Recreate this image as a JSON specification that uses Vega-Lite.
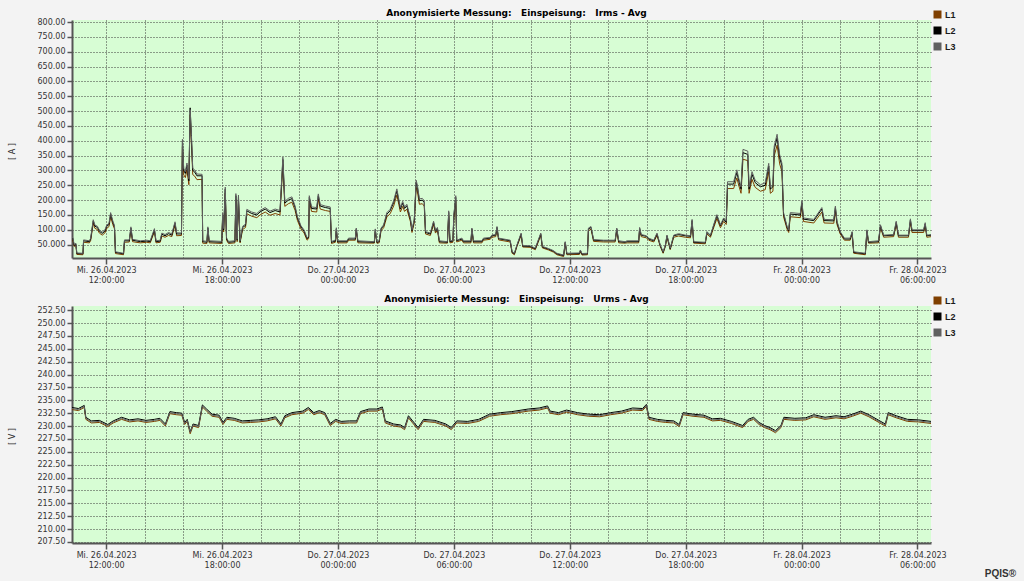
{
  "$schema": "https://vega.github.io/schema/vega-lite/v6.json",
  "background": "#f3f3f3",
  "padding": {"left": 8, "top": 9, "right": 10, "bottom": 4},
  "title": {"text": "PQIS®", "orient": "bottom", "anchor": "end", "font": "Liberation Sans", "fontSize": 10, "fontWeight": "bold", "color": "#333333", "dx": 60, "dy": -1, "offset": 0},
  "bounds": "flush",
  "spacing": 48,
  "datasets": {
    "irms": [
      {"t": "2023-04-26T10:14", "L1": 64, "L2": 69, "L3": 72},
      {"t": "2023-04-26T10:16", "L1": 66, "L2": 72, "L3": 75},
      {"t": "2023-04-26T10:21", "L1": 44, "L2": 47, "L3": 50},
      {"t": "2023-04-26T10:26", "L1": 48, "L2": 52, "L3": 55},
      {"t": "2023-04-26T10:29", "L1": 17, "L2": 20, "L3": 22},
      {"t": "2023-04-26T10:48", "L1": 16, "L2": 19, "L3": 21},
      {"t": "2023-04-26T10:50", "L1": 58, "L2": 63, "L3": 66},
      {"t": "2023-04-26T11:08", "L1": 56, "L2": 60, "L3": 63},
      {"t": "2023-04-26T11:12", "L1": 64, "L2": 69, "L3": 72},
      {"t": "2023-04-26T11:20", "L1": 122, "L2": 130, "L3": 134},
      {"t": "2023-04-26T11:25", "L1": 105, "L2": 112, "L3": 116},
      {"t": "2023-04-26T11:33", "L1": 101, "L2": 108, "L3": 112},
      {"t": "2023-04-26T11:39", "L1": 89, "L2": 95, "L3": 99},
      {"t": "2023-04-26T11:48", "L1": 82, "L2": 88, "L3": 92},
      {"t": "2023-04-26T11:56", "L1": 89, "L2": 95, "L3": 99},
      {"t": "2023-04-26T12:02", "L1": 105, "L2": 112, "L3": 116},
      {"t": "2023-04-26T12:09", "L1": 111, "L2": 118, "L3": 122},
      {"t": "2023-04-26T12:14", "L1": 144, "L2": 153, "L3": 158},
      {"t": "2023-04-26T12:21", "L1": 117, "L2": 125, "L3": 129},
      {"t": "2023-04-26T12:26", "L1": 103, "L2": 110, "L3": 114},
      {"t": "2023-04-26T12:29", "L1": 20, "L2": 24, "L3": 26},
      {"t": "2023-04-26T12:54", "L1": 16, "L2": 19, "L3": 21},
      {"t": "2023-04-26T12:57", "L1": 58, "L2": 63, "L3": 66},
      {"t": "2023-04-26T13:12", "L1": 59, "L2": 63, "L3": 66},
      {"t": "2023-04-26T13:17", "L1": 99, "L2": 106, "L3": 110},
      {"t": "2023-04-26T13:22", "L1": 60, "L2": 65, "L3": 68},
      {"t": "2023-04-26T13:46", "L1": 56, "L2": 60, "L3": 63},
      {"t": "2023-04-26T14:06", "L1": 58, "L2": 62, "L3": 65},
      {"t": "2023-04-26T14:17", "L1": 56, "L2": 60, "L3": 63},
      {"t": "2023-04-26T14:30", "L1": 94, "L2": 100, "L3": 104},
      {"t": "2023-04-26T14:35", "L1": 56, "L2": 60, "L3": 63},
      {"t": "2023-04-26T14:48", "L1": 58, "L2": 62, "L3": 65},
      {"t": "2023-04-26T14:53", "L1": 79, "L2": 85, "L3": 89},
      {"t": "2023-04-26T15:03", "L1": 75, "L2": 80, "L3": 84},
      {"t": "2023-04-26T15:14", "L1": 81, "L2": 87, "L3": 91},
      {"t": "2023-04-26T15:24", "L1": 77, "L2": 82, "L3": 86},
      {"t": "2023-04-26T15:34", "L1": 115, "L2": 123, "L3": 127},
      {"t": "2023-04-26T15:39", "L1": 80, "L2": 86, "L3": 90},
      {"t": "2023-04-26T15:54", "L1": 81, "L2": 86, "L3": 89},
      {"t": "2023-04-26T15:57", "L1": 380, "L2": 399, "L3": 405},
      {"t": "2023-04-26T16:01", "L1": 285, "L2": 300, "L3": 306},
      {"t": "2023-04-26T16:06", "L1": 276, "L2": 290, "L3": 296},
      {"t": "2023-04-26T16:11", "L1": 302, "L2": 318, "L3": 325},
      {"t": "2023-04-26T16:17", "L1": 252, "L2": 265, "L3": 272},
      {"t": "2023-04-26T16:21", "L1": 488, "L2": 511, "L3": 505},
      {"t": "2023-04-26T16:25", "L1": 392, "L2": 410, "L3": 418},
      {"t": "2023-04-26T16:29", "L1": 286, "L2": 300, "L3": 307},
      {"t": "2023-04-26T16:35", "L1": 281, "L2": 295, "L3": 302},
      {"t": "2023-04-26T16:42", "L1": 269, "L2": 282, "L3": 288},
      {"t": "2023-04-26T16:58", "L1": 270, "L2": 282, "L3": 287},
      {"t": "2023-04-26T17:00", "L1": 55, "L2": 60, "L3": 63},
      {"t": "2023-04-26T17:13", "L1": 54, "L2": 58, "L3": 61},
      {"t": "2023-04-26T17:16", "L1": 99, "L2": 106, "L3": 110},
      {"t": "2023-04-26T17:20", "L1": 56, "L2": 60, "L3": 63},
      {"t": "2023-04-26T17:59", "L1": 54, "L2": 58, "L3": 61},
      {"t": "2023-04-26T18:02", "L1": 141, "L2": 150, "L3": 156},
      {"t": "2023-04-26T18:05", "L1": 93, "L2": 100, "L3": 104},
      {"t": "2023-04-26T18:10", "L1": 224, "L2": 237, "L3": 244},
      {"t": "2023-04-26T18:14", "L1": 65, "L2": 70, "L3": 73},
      {"t": "2023-04-26T18:20", "L1": 54, "L2": 58, "L3": 61},
      {"t": "2023-04-26T18:40", "L1": 56, "L2": 60, "L3": 63},
      {"t": "2023-04-26T18:43", "L1": 203, "L2": 215, "L3": 222},
      {"t": "2023-04-26T18:47", "L1": 60, "L2": 65, "L3": 68},
      {"t": "2023-04-26T18:51", "L1": 198, "L2": 210, "L3": 217},
      {"t": "2023-04-26T18:56", "L1": 56, "L2": 60, "L3": 63},
      {"t": "2023-04-26T19:04", "L1": 101, "L2": 108, "L3": 112},
      {"t": "2023-04-26T19:13", "L1": 108, "L2": 115, "L3": 119},
      {"t": "2023-04-26T19:17", "L1": 154, "L2": 164, "L3": 169},
      {"t": "2023-04-26T19:32", "L1": 146, "L2": 155, "L3": 160},
      {"t": "2023-04-26T19:48", "L1": 141, "L2": 150, "L3": 155},
      {"t": "2023-04-26T19:58", "L1": 150, "L2": 160, "L3": 165},
      {"t": "2023-04-26T20:14", "L1": 160, "L2": 170, "L3": 175},
      {"t": "2023-04-26T20:29", "L1": 149, "L2": 158, "L3": 163},
      {"t": "2023-04-26T20:45", "L1": 155, "L2": 165, "L3": 170},
      {"t": "2023-04-26T21:00", "L1": 150, "L2": 160, "L3": 165},
      {"t": "2023-04-26T21:09", "L1": 320, "L2": 337, "L3": 345},
      {"t": "2023-04-26T21:15", "L1": 179, "L2": 190, "L3": 196},
      {"t": "2023-04-26T21:26", "L1": 188, "L2": 200, "L3": 206},
      {"t": "2023-04-26T21:37", "L1": 193, "L2": 205, "L3": 211},
      {"t": "2023-04-26T21:47", "L1": 165, "L2": 175, "L3": 180},
      {"t": "2023-04-26T21:54", "L1": 132, "L2": 140, "L3": 145},
      {"t": "2023-04-26T22:05", "L1": 103, "L2": 110, "L3": 114},
      {"t": "2023-04-26T22:15", "L1": 89, "L2": 95, "L3": 99},
      {"t": "2023-04-26T22:24", "L1": 65, "L2": 70, "L3": 73},
      {"t": "2023-04-26T22:29", "L1": 70, "L2": 75, "L3": 78},
      {"t": "2023-04-26T22:31", "L1": 197, "L2": 209, "L3": 215},
      {"t": "2023-04-26T22:38", "L1": 162, "L2": 172, "L3": 177},
      {"t": "2023-04-26T22:54", "L1": 160, "L2": 170, "L3": 175},
      {"t": "2023-04-26T22:59", "L1": 203, "L2": 215, "L3": 221},
      {"t": "2023-04-26T23:05", "L1": 170, "L2": 180, "L3": 185},
      {"t": "2023-04-26T23:21", "L1": 165, "L2": 175, "L3": 180},
      {"t": "2023-04-26T23:36", "L1": 162, "L2": 172, "L3": 177},
      {"t": "2023-04-26T23:40", "L1": 54, "L2": 58, "L3": 61},
      {"t": "2023-04-26T23:52", "L1": 58, "L2": 62, "L3": 65},
      {"t": "2023-04-26T23:55", "L1": 96, "L2": 103, "L3": 107},
      {"t": "2023-04-26T23:59", "L1": 56, "L2": 60, "L3": 63},
      {"t": "2023-04-27T00:28", "L1": 56, "L2": 60, "L3": 63},
      {"t": "2023-04-27T00:33", "L1": 65, "L2": 69, "L3": 72},
      {"t": "2023-04-27T00:54", "L1": 65, "L2": 69, "L3": 72},
      {"t": "2023-04-27T00:57", "L1": 97, "L2": 103, "L3": 106},
      {"t": "2023-04-27T01:02", "L1": 56, "L2": 60, "L3": 63},
      {"t": "2023-04-27T01:53", "L1": 55, "L2": 58, "L3": 60},
      {"t": "2023-04-27T01:56", "L1": 94, "L2": 100, "L3": 103},
      {"t": "2023-04-27T02:01", "L1": 55, "L2": 58, "L3": 60},
      {"t": "2023-04-27T02:08", "L1": 56, "L2": 60, "L3": 63},
      {"t": "2023-04-27T02:14", "L1": 97, "L2": 103, "L3": 106},
      {"t": "2023-04-27T02:22", "L1": 107, "L2": 114, "L3": 117},
      {"t": "2023-04-27T02:32", "L1": 144, "L2": 153, "L3": 158},
      {"t": "2023-04-27T02:42", "L1": 154, "L2": 164, "L3": 169},
      {"t": "2023-04-27T02:53", "L1": 180, "L2": 192, "L3": 198},
      {"t": "2023-04-27T03:03", "L1": 217, "L2": 231, "L3": 238},
      {"t": "2023-04-27T03:08", "L1": 191, "L2": 203, "L3": 209},
      {"t": "2023-04-27T03:14", "L1": 160, "L2": 170, "L3": 175},
      {"t": "2023-04-27T03:21", "L1": 179, "L2": 190, "L3": 196},
      {"t": "2023-04-27T03:27", "L1": 162, "L2": 172, "L3": 177},
      {"t": "2023-04-27T03:34", "L1": 170, "L2": 181, "L3": 186},
      {"t": "2023-04-27T03:45", "L1": 128, "L2": 136, "L3": 140},
      {"t": "2023-04-27T03:50", "L1": 91, "L2": 97, "L3": 100},
      {"t": "2023-04-27T03:57", "L1": 123, "L2": 131, "L3": 135},
      {"t": "2023-04-27T04:03", "L1": 243, "L2": 259, "L3": 267},
      {"t": "2023-04-27T04:07", "L1": 227, "L2": 242, "L3": 249},
      {"t": "2023-04-27T04:13", "L1": 186, "L2": 198, "L3": 204},
      {"t": "2023-04-27T04:22", "L1": 188, "L2": 200, "L3": 206},
      {"t": "2023-04-27T04:28", "L1": 180, "L2": 192, "L3": 198},
      {"t": "2023-04-27T04:32", "L1": 86, "L2": 91, "L3": 94},
      {"t": "2023-04-27T04:47", "L1": 81, "L2": 86, "L3": 89},
      {"t": "2023-04-27T04:57", "L1": 118, "L2": 125, "L3": 129},
      {"t": "2023-04-27T05:03", "L1": 89, "L2": 95, "L3": 98},
      {"t": "2023-04-27T05:09", "L1": 99, "L2": 105, "L3": 108},
      {"t": "2023-04-27T05:15", "L1": 56, "L2": 60, "L3": 63},
      {"t": "2023-04-27T05:40", "L1": 55, "L2": 58, "L3": 60},
      {"t": "2023-04-27T05:44", "L1": 149, "L2": 159, "L3": 164},
      {"t": "2023-04-27T05:48", "L1": 56, "L2": 60, "L3": 63},
      {"t": "2023-04-27T05:57", "L1": 58, "L2": 62, "L3": 64},
      {"t": "2023-04-27T06:00", "L1": 138, "L2": 147, "L3": 151},
      {"t": "2023-04-27T06:06", "L1": 196, "L2": 209, "L3": 215},
      {"t": "2023-04-27T06:09", "L1": 59, "L2": 63, "L3": 65},
      {"t": "2023-04-27T06:25", "L1": 65, "L2": 69, "L3": 72},
      {"t": "2023-04-27T06:30", "L1": 56, "L2": 60, "L3": 63},
      {"t": "2023-04-27T06:53", "L1": 56, "L2": 60, "L3": 63},
      {"t": "2023-04-27T06:56", "L1": 97, "L2": 103, "L3": 106},
      {"t": "2023-04-27T07:01", "L1": 56, "L2": 60, "L3": 63},
      {"t": "2023-04-27T07:27", "L1": 56, "L2": 60, "L3": 63},
      {"t": "2023-04-27T07:32", "L1": 65, "L2": 69, "L3": 72},
      {"t": "2023-04-27T07:53", "L1": 68, "L2": 72, "L3": 74},
      {"t": "2023-04-27T07:58", "L1": 75, "L2": 80, "L3": 82},
      {"t": "2023-04-27T08:10", "L1": 77, "L2": 82, "L3": 84},
      {"t": "2023-04-27T08:14", "L1": 102, "L2": 108, "L3": 111},
      {"t": "2023-04-27T08:19", "L1": 66, "L2": 70, "L3": 72},
      {"t": "2023-04-27T08:55", "L1": 59, "L2": 63, "L3": 65},
      {"t": "2023-04-27T09:01", "L1": 21, "L2": 24, "L3": 26},
      {"t": "2023-04-27T09:08", "L1": 16, "L2": 19, "L3": 21},
      {"t": "2023-04-27T09:16", "L1": 44, "L2": 47, "L3": 49},
      {"t": "2023-04-27T09:29", "L1": 81, "L2": 86, "L3": 89},
      {"t": "2023-04-27T09:34", "L1": 42, "L2": 45, "L3": 47},
      {"t": "2023-04-27T09:57", "L1": 41, "L2": 44, "L3": 46},
      {"t": "2023-04-27T10:13", "L1": 33, "L2": 36, "L3": 38},
      {"t": "2023-04-27T10:30", "L1": 81, "L2": 86, "L3": 89},
      {"t": "2023-04-27T10:35", "L1": 39, "L2": 42, "L3": 44},
      {"t": "2023-04-27T10:54", "L1": 32, "L2": 35, "L3": 37},
      {"t": "2023-04-27T11:09", "L1": 25, "L2": 28, "L3": 30},
      {"t": "2023-04-27T11:20", "L1": 16, "L2": 19, "L3": 21},
      {"t": "2023-04-27T11:41", "L1": 10, "L2": 13, "L3": 15},
      {"t": "2023-04-27T11:46", "L1": 55, "L2": 58, "L3": 60},
      {"t": "2023-04-27T11:51", "L1": 16, "L2": 19, "L3": 21},
      {"t": "2023-04-27T12:30", "L1": 17, "L2": 20, "L3": 22},
      {"t": "2023-04-27T12:33", "L1": 27, "L2": 30, "L3": 32},
      {"t": "2023-04-27T12:38", "L1": 15, "L2": 18, "L3": 20},
      {"t": "2023-04-27T12:55", "L1": 16, "L2": 19, "L3": 21},
      {"t": "2023-04-27T12:58", "L1": 97, "L2": 103, "L3": 106},
      {"t": "2023-04-27T13:06", "L1": 102, "L2": 108, "L3": 111},
      {"t": "2023-04-27T13:14", "L1": 61, "L2": 65, "L3": 67},
      {"t": "2023-04-27T13:45", "L1": 59, "L2": 63, "L3": 65},
      {"t": "2023-04-27T14:21", "L1": 59, "L2": 63, "L3": 65},
      {"t": "2023-04-27T14:26", "L1": 97, "L2": 103, "L3": 106},
      {"t": "2023-04-27T14:32", "L1": 56, "L2": 60, "L3": 63},
      {"t": "2023-04-27T14:52", "L1": 55, "L2": 58, "L3": 60},
      {"t": "2023-04-27T14:58", "L1": 56, "L2": 60, "L3": 63},
      {"t": "2023-04-27T15:34", "L1": 56, "L2": 60, "L3": 63},
      {"t": "2023-04-27T15:37", "L1": 99, "L2": 105, "L3": 108},
      {"t": "2023-04-27T15:42", "L1": 77, "L2": 82, "L3": 84},
      {"t": "2023-04-27T15:58", "L1": 73, "L2": 78, "L3": 80},
      {"t": "2023-04-27T16:05", "L1": 65, "L2": 69, "L3": 72},
      {"t": "2023-04-27T16:21", "L1": 59, "L2": 63, "L3": 65},
      {"t": "2023-04-27T16:31", "L1": 81, "L2": 86, "L3": 89},
      {"t": "2023-04-27T16:41", "L1": 44, "L2": 47, "L3": 49},
      {"t": "2023-04-27T16:50", "L1": 21, "L2": 24, "L3": 26},
      {"t": "2023-04-27T16:57", "L1": 44, "L2": 47, "L3": 49},
      {"t": "2023-04-27T17:02", "L1": 75, "L2": 80, "L3": 82},
      {"t": "2023-04-27T17:12", "L1": 33, "L2": 36, "L3": 38},
      {"t": "2023-04-27T17:23", "L1": 75, "L2": 80, "L3": 82},
      {"t": "2023-04-27T17:38", "L1": 79, "L2": 84, "L3": 87},
      {"t": "2023-04-27T17:59", "L1": 75, "L2": 80, "L3": 82},
      {"t": "2023-04-27T18:15", "L1": 73, "L2": 78, "L3": 80},
      {"t": "2023-04-27T18:20", "L1": 123, "L2": 131, "L3": 135},
      {"t": "2023-04-27T18:25", "L1": 55, "L2": 58, "L3": 60},
      {"t": "2023-04-27T19:01", "L1": 53, "L2": 56, "L3": 58},
      {"t": "2023-04-27T19:06", "L1": 86, "L2": 91, "L3": 94},
      {"t": "2023-04-27T19:17", "L1": 75, "L2": 80, "L3": 82},
      {"t": "2023-04-27T19:27", "L1": 107, "L2": 114, "L3": 117},
      {"t": "2023-04-27T19:37", "L1": 138, "L2": 147, "L3": 151},
      {"t": "2023-04-27T19:48", "L1": 107, "L2": 114, "L3": 117},
      {"t": "2023-04-27T19:58", "L1": 128, "L2": 136, "L3": 140},
      {"t": "2023-04-27T20:06", "L1": 118, "L2": 125, "L3": 129},
      {"t": "2023-04-27T20:10", "L1": 239, "L2": 254, "L3": 262},
      {"t": "2023-04-27T20:29", "L1": 239, "L2": 254, "L3": 262},
      {"t": "2023-04-27T20:39", "L1": 275, "L2": 293, "L3": 302},
      {"t": "2023-04-27T20:45", "L1": 249, "L2": 265, "L3": 273},
      {"t": "2023-04-27T20:52", "L1": 223, "L2": 237, "L3": 244},
      {"t": "2023-04-27T20:58", "L1": 338, "L2": 360, "L3": 371},
      {"t": "2023-04-27T21:13", "L1": 333, "L2": 354, "L3": 365},
      {"t": "2023-04-27T21:17", "L1": 223, "L2": 237, "L3": 244},
      {"t": "2023-04-27T21:26", "L1": 270, "L2": 287, "L3": 296},
      {"t": "2023-04-27T21:36", "L1": 243, "L2": 259, "L3": 267},
      {"t": "2023-04-27T21:52", "L1": 230, "L2": 245, "L3": 252},
      {"t": "2023-04-27T22:07", "L1": 235, "L2": 250, "L3": 258},
      {"t": "2023-04-27T22:18", "L1": 296, "L2": 315, "L3": 324},
      {"t": "2023-04-27T22:23", "L1": 223, "L2": 237, "L3": 244},
      {"t": "2023-04-27T22:31", "L1": 230, "L2": 245, "L3": 252},
      {"t": "2023-04-27T22:35", "L1": 349, "L2": 371, "L3": 382},
      {"t": "2023-04-27T22:44", "L1": 385, "L2": 410, "L3": 422},
      {"t": "2023-04-27T22:52", "L1": 322, "L2": 343, "L3": 353},
      {"t": "2023-04-27T22:59", "L1": 296, "L2": 315, "L3": 324},
      {"t": "2023-04-27T23:04", "L1": 144, "L2": 153, "L3": 158},
      {"t": "2023-04-27T23:15", "L1": 102, "L2": 108, "L3": 111},
      {"t": "2023-04-27T23:20", "L1": 91, "L2": 97, "L3": 100},
      {"t": "2023-04-27T23:25", "L1": 144, "L2": 153, "L3": 158},
      {"t": "2023-04-27T23:56", "L1": 141, "L2": 150, "L3": 155},
      {"t": "2023-04-28T00:01", "L1": 180, "L2": 192, "L3": 198},
      {"t": "2023-04-28T00:06", "L1": 128, "L2": 136, "L3": 140},
      {"t": "2023-04-28T00:38", "L1": 123, "L2": 131, "L3": 135},
      {"t": "2023-04-28T01:03", "L1": 160, "L2": 170, "L3": 175},
      {"t": "2023-04-28T01:10", "L1": 123, "L2": 131, "L3": 135},
      {"t": "2023-04-28T01:40", "L1": 122, "L2": 130, "L3": 134},
      {"t": "2023-04-28T01:45", "L1": 165, "L2": 175, "L3": 180},
      {"t": "2023-04-28T01:50", "L1": 118, "L2": 125, "L3": 129},
      {"t": "2023-04-28T02:00", "L1": 86, "L2": 91, "L3": 94},
      {"t": "2023-04-28T02:13", "L1": 65, "L2": 69, "L3": 72},
      {"t": "2023-04-28T02:31", "L1": 65, "L2": 69, "L3": 72},
      {"t": "2023-04-28T02:37", "L1": 86, "L2": 91, "L3": 94},
      {"t": "2023-04-28T02:42", "L1": 21, "L2": 24, "L3": 26},
      {"t": "2023-04-28T03:18", "L1": 16, "L2": 19, "L3": 21},
      {"t": "2023-04-28T03:23", "L1": 91, "L2": 97, "L3": 100},
      {"t": "2023-04-28T03:28", "L1": 55, "L2": 58, "L3": 60},
      {"t": "2023-04-28T03:59", "L1": 56, "L2": 60, "L3": 63},
      {"t": "2023-04-28T04:05", "L1": 107, "L2": 114, "L3": 117},
      {"t": "2023-04-28T04:15", "L1": 75, "L2": 80, "L3": 82},
      {"t": "2023-04-28T04:46", "L1": 77, "L2": 82, "L3": 84},
      {"t": "2023-04-28T04:54", "L1": 118, "L2": 125, "L3": 129},
      {"t": "2023-04-28T05:01", "L1": 75, "L2": 80, "L3": 82},
      {"t": "2023-04-28T05:32", "L1": 75, "L2": 80, "L3": 82},
      {"t": "2023-04-28T05:38", "L1": 125, "L2": 133, "L3": 137},
      {"t": "2023-04-28T05:43", "L1": 91, "L2": 97, "L3": 100},
      {"t": "2023-04-28T06:19", "L1": 91, "L2": 97, "L3": 100},
      {"t": "2023-04-28T06:24", "L1": 113, "L2": 120, "L3": 124},
      {"t": "2023-04-28T06:29", "L1": 75, "L2": 80, "L3": 82},
      {"t": "2023-04-28T06:43", "L1": 77, "L2": 82, "L3": 84}
    ],
    "urms": [
      {"t": "2023-04-26T10:14", "L1": 233.2, "L2": 233.6, "L3": 233.4},
      {"t": "2023-04-26T10:34", "L1": 233.0, "L2": 233.4, "L3": 233.2},
      {"t": "2023-04-26T10:52", "L1": 233.6, "L2": 234.0, "L3": 233.8},
      {"t": "2023-04-26T10:57", "L1": 231.3, "L2": 231.7, "L3": 231.5},
      {"t": "2023-04-26T11:14", "L1": 230.6, "L2": 231.0, "L3": 230.8},
      {"t": "2023-04-26T11:39", "L1": 230.7, "L2": 231.1, "L3": 230.9},
      {"t": "2023-04-26T12:05", "L1": 229.9, "L2": 230.3, "L3": 230.1},
      {"t": "2023-04-26T12:22", "L1": 230.6, "L2": 231.0, "L3": 230.8},
      {"t": "2023-04-26T12:48", "L1": 231.3, "L2": 231.7, "L3": 231.5},
      {"t": "2023-04-26T13:13", "L1": 230.8, "L2": 231.2, "L3": 231.0},
      {"t": "2023-04-26T13:39", "L1": 231.0, "L2": 231.4, "L3": 231.2},
      {"t": "2023-04-26T14:04", "L1": 230.7, "L2": 231.1, "L3": 230.9},
      {"t": "2023-04-26T14:30", "L1": 230.9, "L2": 231.3, "L3": 231.1},
      {"t": "2023-04-26T14:47", "L1": 231.1, "L2": 231.5, "L3": 231.3},
      {"t": "2023-04-26T15:04", "L1": 230.0, "L2": 230.4, "L3": 230.2},
      {"t": "2023-04-26T15:18", "L1": 232.4, "L2": 232.8, "L3": 232.6},
      {"t": "2023-04-26T15:38", "L1": 232.2, "L2": 232.6, "L3": 232.4},
      {"t": "2023-04-26T15:55", "L1": 232.1, "L2": 232.5, "L3": 232.3},
      {"t": "2023-04-26T16:04", "L1": 230.3, "L2": 230.7, "L3": 230.5},
      {"t": "2023-04-26T16:12", "L1": 230.9, "L2": 231.3, "L3": 231.1},
      {"t": "2023-04-26T16:21", "L1": 228.5, "L2": 228.9, "L3": 228.8},
      {"t": "2023-04-26T16:30", "L1": 230.0, "L2": 230.4, "L3": 230.2},
      {"t": "2023-04-26T16:47", "L1": 229.7, "L2": 230.1, "L3": 229.9},
      {"t": "2023-04-26T16:59", "L1": 233.7, "L2": 234.1, "L3": 233.9},
      {"t": "2023-04-26T17:12", "L1": 232.9, "L2": 233.3, "L3": 233.1},
      {"t": "2023-04-26T17:29", "L1": 231.9, "L2": 232.3, "L3": 232.1},
      {"t": "2023-04-26T17:51", "L1": 231.7, "L2": 232.1, "L3": 231.9},
      {"t": "2023-04-26T18:03", "L1": 230.3, "L2": 230.7, "L3": 230.5},
      {"t": "2023-04-26T18:15", "L1": 231.3, "L2": 231.7, "L3": 231.5},
      {"t": "2023-04-26T18:38", "L1": 231.1, "L2": 231.5, "L3": 231.3},
      {"t": "2023-04-26T19:03", "L1": 230.6, "L2": 231.0, "L3": 230.8},
      {"t": "2023-04-26T19:29", "L1": 230.7, "L2": 231.1, "L3": 230.9},
      {"t": "2023-04-26T19:54", "L1": 230.8, "L2": 231.2, "L3": 231.0},
      {"t": "2023-04-26T20:20", "L1": 231.0, "L2": 231.4, "L3": 231.2},
      {"t": "2023-04-26T20:46", "L1": 231.4, "L2": 231.8, "L3": 231.6},
      {"t": "2023-04-26T21:03", "L1": 230.0, "L2": 230.4, "L3": 230.2},
      {"t": "2023-04-26T21:15", "L1": 231.6, "L2": 232.0, "L3": 231.8},
      {"t": "2023-04-26T21:37", "L1": 232.2, "L2": 232.6, "L3": 232.4},
      {"t": "2023-04-26T22:11", "L1": 232.5, "L2": 232.9, "L3": 232.7},
      {"t": "2023-04-26T22:28", "L1": 233.2, "L2": 233.6, "L3": 233.4},
      {"t": "2023-04-26T22:45", "L1": 232.2, "L2": 232.6, "L3": 232.4},
      {"t": "2023-04-26T23:02", "L1": 232.6, "L2": 233.0, "L3": 232.8},
      {"t": "2023-04-26T23:19", "L1": 232.2, "L2": 232.6, "L3": 232.4},
      {"t": "2023-04-26T23:36", "L1": 230.1, "L2": 230.5, "L3": 230.3},
      {"t": "2023-04-26T23:53", "L1": 230.9, "L2": 231.3, "L3": 231.1},
      {"t": "2023-04-27T00:10", "L1": 230.5, "L2": 230.9, "L3": 230.7},
      {"t": "2023-04-27T00:36", "L1": 230.6, "L2": 231.0, "L3": 230.8},
      {"t": "2023-04-27T00:58", "L1": 230.6, "L2": 231.0, "L3": 230.8},
      {"t": "2023-04-27T01:10", "L1": 232.4, "L2": 232.8, "L3": 232.6},
      {"t": "2023-04-27T01:36", "L1": 232.9, "L2": 233.3, "L3": 233.1},
      {"t": "2023-04-27T02:01", "L1": 232.9, "L2": 233.3, "L3": 233.1},
      {"t": "2023-04-27T02:18", "L1": 233.3, "L2": 233.7, "L3": 233.5},
      {"t": "2023-04-27T02:27", "L1": 230.6, "L2": 231.0, "L3": 230.8},
      {"t": "2023-04-27T02:53", "L1": 230.0, "L2": 230.4, "L3": 230.2},
      {"t": "2023-04-27T03:15", "L1": 229.8, "L2": 230.2, "L3": 230.0},
      {"t": "2023-04-27T03:27", "L1": 229.3, "L2": 229.7, "L3": 229.5},
      {"t": "2023-04-27T03:39", "L1": 231.6, "L2": 232.0, "L3": 231.8},
      {"t": "2023-04-27T03:52", "L1": 230.6, "L2": 231.0, "L3": 230.8},
      {"t": "2023-04-27T04:09", "L1": 229.3, "L2": 229.7, "L3": 229.5},
      {"t": "2023-04-27T04:26", "L1": 230.9, "L2": 231.3, "L3": 231.1},
      {"t": "2023-04-27T05:01", "L1": 230.7, "L2": 231.1, "L3": 230.9},
      {"t": "2023-04-27T05:35", "L1": 230.0, "L2": 230.4, "L3": 230.2},
      {"t": "2023-04-27T05:52", "L1": 229.3, "L2": 229.7, "L3": 229.5},
      {"t": "2023-04-27T06:09", "L1": 230.6, "L2": 231.0, "L3": 230.8},
      {"t": "2023-04-27T06:43", "L1": 230.5, "L2": 230.9, "L3": 230.7},
      {"t": "2023-04-27T07:17", "L1": 230.9, "L2": 231.3, "L3": 231.1},
      {"t": "2023-04-27T07:51", "L1": 231.9, "L2": 232.3, "L3": 232.1},
      {"t": "2023-04-27T08:25", "L1": 232.2, "L2": 232.6, "L3": 232.4},
      {"t": "2023-04-27T09:00", "L1": 232.4, "L2": 232.8, "L3": 232.6},
      {"t": "2023-04-27T09:51", "L1": 232.9, "L2": 233.3, "L3": 233.1},
      {"t": "2023-04-27T10:25", "L1": 233.1, "L2": 233.5, "L3": 233.3},
      {"t": "2023-04-27T10:51", "L1": 233.5, "L2": 233.9, "L3": 233.7},
      {"t": "2023-04-27T10:59", "L1": 232.5, "L2": 232.9, "L3": 232.7},
      {"t": "2023-04-27T11:25", "L1": 232.2, "L2": 232.6, "L3": 232.4},
      {"t": "2023-04-27T11:50", "L1": 232.7, "L2": 233.1, "L3": 232.9},
      {"t": "2023-04-27T12:24", "L1": 232.2, "L2": 232.6, "L3": 232.4},
      {"t": "2023-04-27T12:59", "L1": 231.9, "L2": 232.3, "L3": 232.1},
      {"t": "2023-04-27T13:33", "L1": 231.8, "L2": 232.2, "L3": 232.0},
      {"t": "2023-04-27T14:07", "L1": 232.2, "L2": 232.6, "L3": 232.4},
      {"t": "2023-04-27T14:41", "L1": 232.5, "L2": 232.9, "L3": 232.7},
      {"t": "2023-04-27T15:15", "L1": 233.1, "L2": 233.5, "L3": 233.3},
      {"t": "2023-04-27T15:46", "L1": 233.0, "L2": 233.4, "L3": 233.2},
      {"t": "2023-04-27T15:58", "L1": 233.8, "L2": 234.2, "L3": 234.0},
      {"t": "2023-04-27T16:06", "L1": 231.3, "L2": 231.7, "L3": 231.5},
      {"t": "2023-04-27T16:32", "L1": 230.9, "L2": 231.3, "L3": 231.1},
      {"t": "2023-04-27T16:58", "L1": 230.7, "L2": 231.1, "L3": 230.9},
      {"t": "2023-04-27T17:23", "L1": 230.6, "L2": 231.0, "L3": 230.8},
      {"t": "2023-04-27T17:40", "L1": 229.9, "L2": 230.3, "L3": 230.1},
      {"t": "2023-04-27T17:52", "L1": 232.2, "L2": 232.6, "L3": 232.4},
      {"t": "2023-04-27T18:23", "L1": 231.9, "L2": 232.3, "L3": 232.1},
      {"t": "2023-04-27T18:57", "L1": 231.7, "L2": 232.1, "L3": 231.9},
      {"t": "2023-04-27T19:23", "L1": 231.0, "L2": 231.4, "L3": 231.2},
      {"t": "2023-04-27T19:48", "L1": 231.1, "L2": 231.5, "L3": 231.3},
      {"t": "2023-04-27T20:22", "L1": 230.5, "L2": 230.9, "L3": 230.7},
      {"t": "2023-04-27T20:57", "L1": 229.7, "L2": 230.1, "L3": 229.9},
      {"t": "2023-04-27T21:14", "L1": 230.9, "L2": 231.3, "L3": 231.1},
      {"t": "2023-04-27T21:31", "L1": 231.3, "L2": 231.7, "L3": 231.5},
      {"t": "2023-04-27T21:48", "L1": 230.3, "L2": 230.7, "L3": 230.5},
      {"t": "2023-04-27T22:05", "L1": 229.7, "L2": 230.1, "L3": 229.9},
      {"t": "2023-04-27T22:22", "L1": 229.3, "L2": 229.7, "L3": 229.5},
      {"t": "2023-04-27T22:39", "L1": 228.7, "L2": 229.1, "L3": 228.9},
      {"t": "2023-04-27T22:56", "L1": 229.7, "L2": 230.1, "L3": 229.9},
      {"t": "2023-04-27T23:05", "L1": 231.3, "L2": 231.7, "L3": 231.5},
      {"t": "2023-04-27T23:39", "L1": 231.1, "L2": 231.5, "L3": 231.3},
      {"t": "2023-04-28T00:13", "L1": 231.2, "L2": 231.6, "L3": 231.4},
      {"t": "2023-04-28T00:38", "L1": 231.8, "L2": 232.2, "L3": 232.0},
      {"t": "2023-04-28T01:13", "L1": 231.3, "L2": 231.7, "L3": 231.5},
      {"t": "2023-04-28T01:47", "L1": 231.6, "L2": 232.0, "L3": 231.8},
      {"t": "2023-04-28T02:12", "L1": 231.4, "L2": 231.8, "L3": 231.6},
      {"t": "2023-04-28T02:38", "L1": 231.9, "L2": 232.3, "L3": 232.1},
      {"t": "2023-04-28T03:04", "L1": 232.5, "L2": 232.9, "L3": 232.7},
      {"t": "2023-04-28T03:29", "L1": 231.8, "L2": 232.2, "L3": 232.0},
      {"t": "2023-04-28T04:03", "L1": 230.6, "L2": 231.0, "L3": 230.8},
      {"t": "2023-04-28T04:20", "L1": 230.0, "L2": 230.4, "L3": 230.2},
      {"t": "2023-04-28T04:29", "L1": 232.2, "L2": 232.6, "L3": 232.4},
      {"t": "2023-04-28T04:54", "L1": 231.6, "L2": 232.0, "L3": 231.8},
      {"t": "2023-04-28T05:29", "L1": 230.9, "L2": 231.3, "L3": 231.1},
      {"t": "2023-04-28T06:03", "L1": 230.8, "L2": 231.2, "L3": 231.0},
      {"t": "2023-04-28T06:42", "L1": 230.5, "L2": 230.9, "L3": 230.7}
    ]
  },
  "vconcat": [
    {
      "width": 859,
      "height": 238,
      "title": {"text": "Anonymisierte Messung:\u00a0\u00a0 Einspeisung:\u00a0\u00a0 Irms - Avg"},
      "data": {"name": "irms"},
      "transform": [{"fold": ["L1", "L2", "L3"], "as": ["Phase", "Wert"]}],
      "mark": {"type": "line", "strokeWidth": 1, "clip": true},
      "encoding": {
        "x": {
          "field": "t", "type": "temporal",
          "scale": {"domain": [{"year": 2023, "month": 4, "date": 26, "hours": 10, "minutes": 14}, {"year": 2023, "month": 4, "date": 28, "hours": 6, "minutes": 42}], "nice": false},
          "axis": {
            "title": null,
            "values": [
              {"year": 2023, "month": 4, "date": 26, "hours": 12}, {"year": 2023, "month": 4, "date": 26, "hours": 14}, {"year": 2023, "month": 4, "date": 26, "hours": 16}, {"year": 2023, "month": 4, "date": 26, "hours": 18}, {"year": 2023, "month": 4, "date": 26, "hours": 20}, {"year": 2023, "month": 4, "date": 26, "hours": 22},
              {"year": 2023, "month": 4, "date": 27, "hours": 0}, {"year": 2023, "month": 4, "date": 27, "hours": 2}, {"year": 2023, "month": 4, "date": 27, "hours": 4}, {"year": 2023, "month": 4, "date": 27, "hours": 6}, {"year": 2023, "month": 4, "date": 27, "hours": 8}, {"year": 2023, "month": 4, "date": 27, "hours": 10},
              {"year": 2023, "month": 4, "date": 27, "hours": 12}, {"year": 2023, "month": 4, "date": 27, "hours": 14}, {"year": 2023, "month": 4, "date": 27, "hours": 16}, {"year": 2023, "month": 4, "date": 27, "hours": 18}, {"year": 2023, "month": 4, "date": 27, "hours": 20}, {"year": 2023, "month": 4, "date": 27, "hours": 22},
              {"year": 2023, "month": 4, "date": 28, "hours": 0}, {"year": 2023, "month": 4, "date": 28, "hours": 2}, {"year": 2023, "month": 4, "date": 28, "hours": 4}, {"year": 2023, "month": 4, "date": 28, "hours": 6}
            ],
            "labelExpr": "hours(datum.value) % 6 === 0 ? [substring('SoMoDiMiDoFrSa', day(datum.value) * 2, day(datum.value) * 2 + 2) + '. ' + timeFormat(datum.value, '%d.%m.%Y'), timeFormat(datum.value, '%H:%M:%S')] : ''",
            "tickOpacity": {"condition": {"test": "hours(datum.value) % 6 === 0", "value": 1}, "value": 0}
          }
        },
        "y": {
          "field": "Wert", "type": "quantitative",
          "scale": {"domain": [5, 807], "nice": false, "zero": false},
          "axis": {
            "title": "[ A ]",
            "values": [50, 100, 150, 200, 250, 300, 350, 400, 450, 500, 550, 600, 650, 700, 750, 800],
            "labelExpr": "datum.value === 50 ? '50.000' : format(datum.value, '.2f')",
            "titleY": 131
          }
        },
        "color": {
          "field": "Phase", "type": "nominal",
          "scale": {"domain": ["L1", "L2", "L3"], "range": ["#7f3f00", "#000000", "#606060"]},
          "legend": {"title": null}
        }
      }
    },
    {
      "width": 859,
      "height": 237,
      "title": {"text": "Anonymisierte Messung:\u00a0\u00a0 Einspeisung:\u00a0\u00a0 Urms - Avg"},
      "data": {"name": "urms"},
      "transform": [{"fold": ["L1", "L2", "L3"], "as": ["Phase", "Wert"]}],
      "mark": {"type": "line", "strokeWidth": 1, "clip": true},
      "encoding": {
        "x": {
          "field": "t", "type": "temporal",
          "scale": {"domain": [{"year": 2023, "month": 4, "date": 26, "hours": 10, "minutes": 14}, {"year": 2023, "month": 4, "date": 28, "hours": 6, "minutes": 42}], "nice": false},
          "axis": {
            "title": null,
            "values": [
              {"year": 2023, "month": 4, "date": 26, "hours": 12}, {"year": 2023, "month": 4, "date": 26, "hours": 14}, {"year": 2023, "month": 4, "date": 26, "hours": 16}, {"year": 2023, "month": 4, "date": 26, "hours": 18}, {"year": 2023, "month": 4, "date": 26, "hours": 20}, {"year": 2023, "month": 4, "date": 26, "hours": 22},
              {"year": 2023, "month": 4, "date": 27, "hours": 0}, {"year": 2023, "month": 4, "date": 27, "hours": 2}, {"year": 2023, "month": 4, "date": 27, "hours": 4}, {"year": 2023, "month": 4, "date": 27, "hours": 6}, {"year": 2023, "month": 4, "date": 27, "hours": 8}, {"year": 2023, "month": 4, "date": 27, "hours": 10},
              {"year": 2023, "month": 4, "date": 27, "hours": 12}, {"year": 2023, "month": 4, "date": 27, "hours": 14}, {"year": 2023, "month": 4, "date": 27, "hours": 16}, {"year": 2023, "month": 4, "date": 27, "hours": 18}, {"year": 2023, "month": 4, "date": 27, "hours": 20}, {"year": 2023, "month": 4, "date": 27, "hours": 22},
              {"year": 2023, "month": 4, "date": 28, "hours": 0}, {"year": 2023, "month": 4, "date": 28, "hours": 2}, {"year": 2023, "month": 4, "date": 28, "hours": 4}, {"year": 2023, "month": 4, "date": 28, "hours": 6}
            ],
            "labelExpr": "hours(datum.value) % 6 === 0 ? [substring('SoMoDiMiDoFrSa', day(datum.value) * 2, day(datum.value) * 2 + 2) + '. ' + timeFormat(datum.value, '%d.%m.%Y'), timeFormat(datum.value, '%H:%M:%S')] : ''",
            "tickOpacity": {"condition": {"test": "hours(datum.value) % 6 === 0", "value": 1}, "value": 0}
          }
        },
        "y": {
          "field": "Wert", "type": "quantitative",
          "scale": {"domain": [207.3, 253.3], "nice": false, "zero": false},
          "axis": {
            "title": "[ V ]",
            "values": [207.5, 210, 212.5, 215, 217.5, 220, 222.5, 225, 227.5, 230, 232.5, 235, 237.5, 240, 242.5, 245, 247.5, 250, 252.5],
            "format": ".2f",
            "titleY": 130
          }
        },
        "color": {
          "field": "Phase", "type": "nominal",
          "scale": {"domain": ["L1", "L2", "L3"], "range": ["#7f3f00", "#000000", "#606060"]},
          "legend": {"title": null}
        }
      }
    }
  ],
  "resolve": {"scale": {"color": "independent"}, "legend": {"color": "independent"}},
  "config": {
    "font": "DejaVu Sans",
    "view": {"fill": "#d7fdd4", "stroke": null},
    "title": {"font": "DejaVu Sans", "fontSize": 9, "fontWeight": "bold", "color": "#000000", "anchor": "middle", "offset": -8, "dx": 15},
    "axis": {
      "grid": true, "gridColor": "#3a3a3a", "gridDash": [1, 2], "gridWidth": 1, "gridOpacity": 1,
      "domainColor": "#555555", "domainWidth": 2,
      "tickColor": "#555555", "tickWidth": 1.5,
      "labelFont": "DejaVu Sans", "labelFontSize": 8, "labelColor": "#333333",
      "labelOverlap": false, "labelFlush": false, "labelBound": false,
      "titleFont": "DejaVu Sans", "titleFontSize": 8, "titleFontWeight": "normal", "titleColor": "#333333"
    },
    "axisX": {"tickSize": 6, "labelPadding": 2, "labelLineHeight": 10.5},
    "axisY": {"tickSize": 5, "labelPadding": 2, "titleX": -56},
    "legend": {
      "orient": "none", "legendX": 861, "legendY": -10, "padding": 0,
      "symbolType": "square", "symbolSize": 9, "symbolStrokeWidth": 5, "symbolOffset": 0,
      "labelFont": "Liberation Sans", "labelFontSize": 9, "labelFontWeight": "bold", "labelColor": "#1a1a1a",
      "labelOffset": 3, "rowPadding": -16
    }
  }
}
